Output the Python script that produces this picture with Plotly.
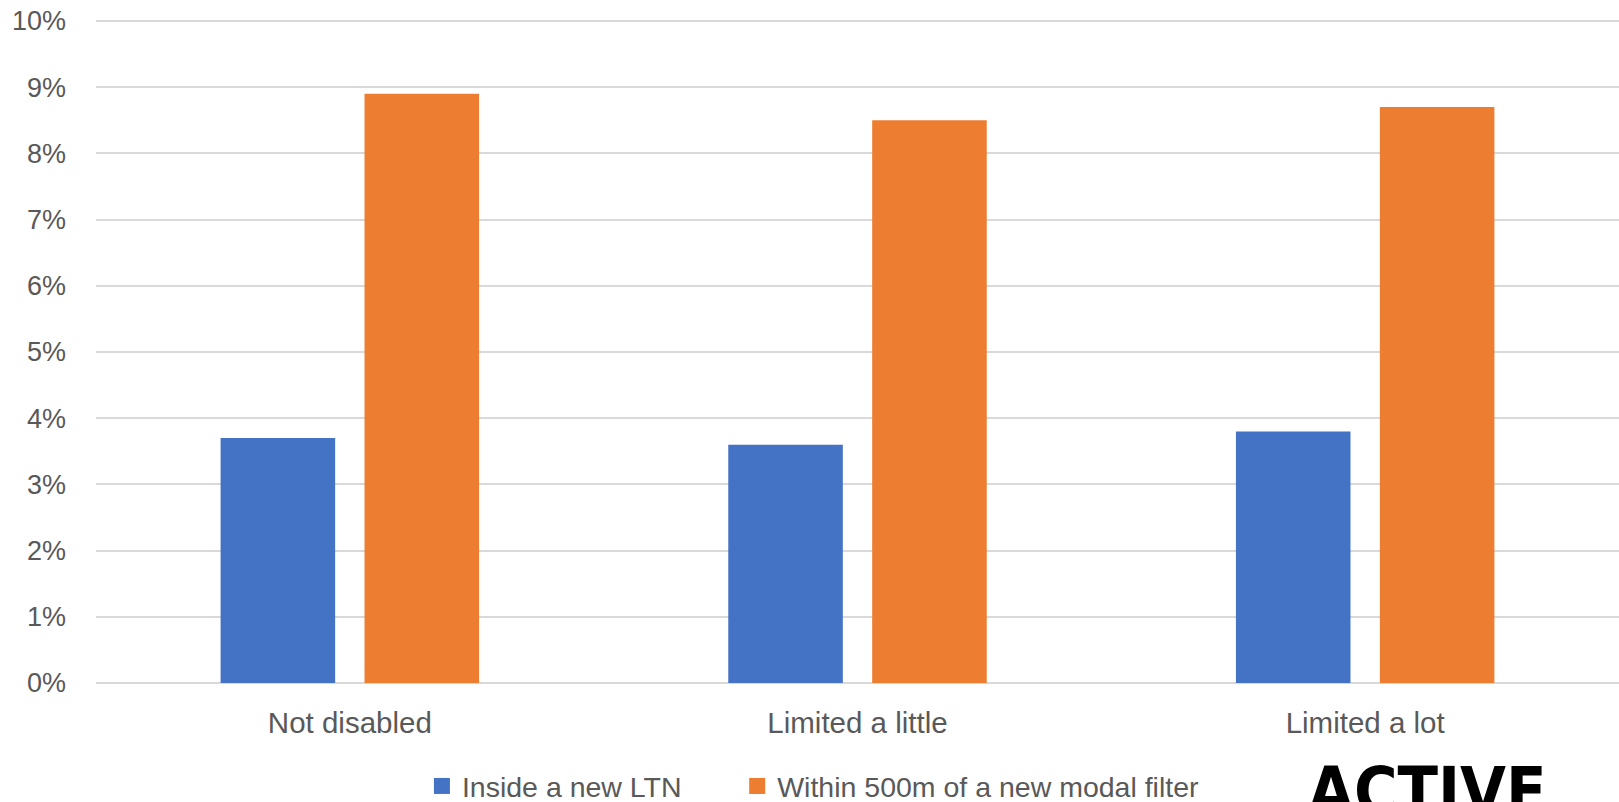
import plotly.graph_objects as go

categories = ["Not disabled", "Limited a little", "Limited a lot"]
series_names = ["Inside a new LTN", "Within 500m of a new modal filter"]
ltn_values = [0.037, 0.036, 0.038]
filter_values = [0.089, 0.085, 0.087]
y_ticks = [0.0, 0.01, 0.02, 0.03, 0.04, 0.05, 0.06, 0.07, 0.08, 0.09, 0.10]
colors = ["#4472C4", "#ED7D31"]

FONT = "Liberation Sans"
GREY = "#595959"

fig = go.Figure()
for name, vals, col in zip(series_names, [ltn_values, filter_values], colors):
    fig.add_trace(go.Bar(x=categories, y=vals, name=name, showlegend=False,
                         marker=dict(color=col, line=dict(width=0))))
# legend entries with larger square swatches
for name, col, lg in zip(series_names, colors, ["legend", "legend2"]):
    fig.add_trace(go.Scatter(x=[None], y=[None], mode="markers", name=name,
                             marker=dict(symbol="square", size=18, color=col),
                             showlegend=True, legend=lg))

PH = 664.5  # plot height in px
leg_common = dict(orientation="h", xanchor="left", y=-(787 - 683.5) / PH, yanchor="middle",
                  font=dict(family=FONT, size=28.5, color=GREY),
                  bgcolor="rgba(0,0,0,0)", borderwidth=0, tracegroupgap=0)

fig.update_layout(
    width=1619, height=802,
    margin=dict(l=96, r=0, t=19, b=118.5, autoexpand=False),
    paper_bgcolor="white", plot_bgcolor="white",
    barmode="group", bargap=0.433, bargroupgap=0.204,
    font=dict(family=FONT, size=28, color=GREY),
    showlegend=True,
    legend=dict(x=0.214, **leg_common),
    legend2=dict(x=0.421, **leg_common),
    xaxis=dict(showgrid=False, showline=False, zeroline=False, ticks="", automargin=False,
               tickfont=dict(family=FONT, size=29.5, color=GREY), ticklabelstandoff=19),
    yaxis=dict(range=[0, 0.1003], tickvals=y_ticks, tickformat=".0%", automargin=False,
               ticklabeloverflow="allow",
               showgrid=True, gridcolor="#d9d9d9", gridwidth=1.5,
               zeroline=True, zerolinecolor="#d9d9d9", zerolinewidth=1.5,
               showline=False, ticks="", ticklabelstandoff=29,
               tickfont=dict(family=FONT, size=27, color=GREY)),
)

fig.add_annotation(text="ACTIVE", xref="paper", yref="paper",
                   x=(1306 - 96) / 1523, xanchor="left",
                   y=-(752 - 683.5) / PH, yanchor="top",
                   showarrow=False,
                   font=dict(family="DejaVu Sans Condensed", weight="bold", size=66, color="black"))

fig.write_html("out.html", config={"displayModeBar": False},
               post_script="document.body.style.margin='0';document.body.style.overflow='hidden';")
